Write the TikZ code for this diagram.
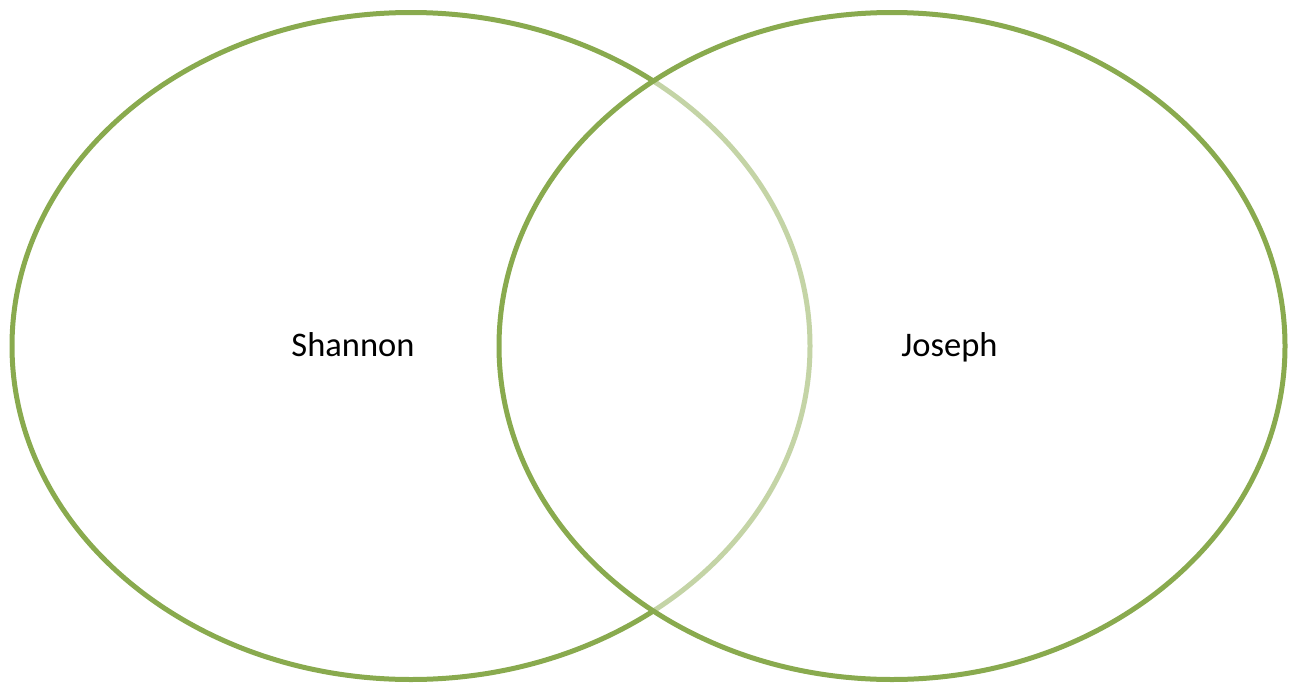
\documentclass[tikz,border=0pt]{standalone}
\usepackage{fontspec}
\setmainfont{Carlito}
\usetikzlibrary{shapes.geometric}
\definecolor{vennolive}{RGB}{137,170,78}

\begin{document}
\begin{tikzpicture}[x=1pt,y=-1pt,
  setring/.style={ellipse,draw=vennolive,line width=5pt,inner sep=0pt,minimum height=667pt},
  setname/.style={font=\fontsize{34.5}{41}\selectfont,text=black,anchor=base}
]
\useasboundingbox (0,0) rectangle (1293,683);
\node[setring,minimum width=798pt] (shannonset) at (411,346) {};
\node[setring,fill=white,fill opacity=0.5,minimum width=786pt] (josephset) at (892,346) {};
\node[setname] (shannonname) at (353,356) {Shannon};
\node[setname] (josephname) at (949.5,356) {Joseph};
\end{tikzpicture}
\end{document}
